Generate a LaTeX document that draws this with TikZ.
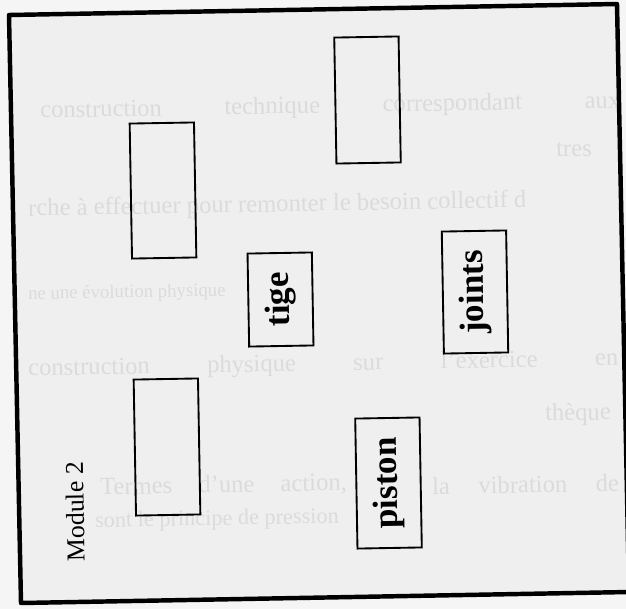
\documentclass[tikz,border=0pt]{standalone}
\usepackage{fontspec}
\setmainfont{Liberation Serif}
\usetikzlibrary{positioning}
\definecolor{fondPage}{RGB}{245,245,245}
\definecolor{fondCadre}{RGB}{239,239,239}
\definecolor{encreVerso}{RGB}{219,219,219}

\begin{document}
\begin{tikzpicture}[x=0.03cm, y=-0.03cm,
  boite/.style={draw, line width=1.6pt, rotate=91, inner sep=0pt, minimum height=1.93cm},
  boiteT/.style={boite, font=\fontsize{30}{30}\selectfont\bfseries},
  verso/.style={anchor=west, rotate=1, inner sep=0pt, text=encreVerso, font=\fontsize{21}{21}\selectfont},
]
  \fill[fondPage] (0,0) rectangle (626,609);
  \useasboundingbox (0,0) rectangle (626,609);
  \fill[fondCadre] (9,15) -- (617,4) -- (629,592) -- (21,603) -- cycle;

  \node[verso] at (40,112)  (v1) {\makebox[17.4cm][s]{construction technique correspondant aux}};
  \node[verso] at (556,150) (v2) {tres};
  \node[verso] at (28,210)  (v3) {rche à effectuer pour remonter le besoin collectif d};
  \node[verso, font=\fontsize{16}{16}\selectfont] at (28,295) (v4) {ne une évolution physique};
  \node[verso] at (28,370)  (v5) {\makebox[17.7cm][s]{construction physique sur l'exercice en}};
  \node[verso] at (545,415) (v6) {thèque};
  \node[verso] at (100,488) (v7) {\makebox[7.4cm][s]{Termes d'une action,}};
  \node[verso] at (432,486) (v7b) {\makebox[5.6cm][s]{la vibration de}};
  \node[verso, font=\fontsize{19}{19}\selectfont] at (95,522) (v8) {sont le principe de pression};

  \draw[line width=3.8pt, line join=round] (9,15) -- (617,4) -- (629,592) -- (21,603) -- cycle;

  \node[boite, minimum width=3.78cm] at (367.5,100) (vide1) {};
  \node[boite, minimum width=4.05cm] at (163,190.5) (vide2) {};
  \node[boite, minimum width=4.08cm] at (167,447)   (vide3) {};

  \node[boiteT, minimum width=2.79cm] at (280.5,299.5) (tige)   {tige};
  \node[boiteT, minimum width=3.66cm] at (475,292)     (joints) {joints};
  \node[boiteT, minimum width=3.90cm] at (388.5,483)   (piston) {piston};

  \node[rotate=91, font=\fontsize{22}{22}\selectfont] at (75,512) (module) {Module 2};
\end{tikzpicture}
\end{document}
